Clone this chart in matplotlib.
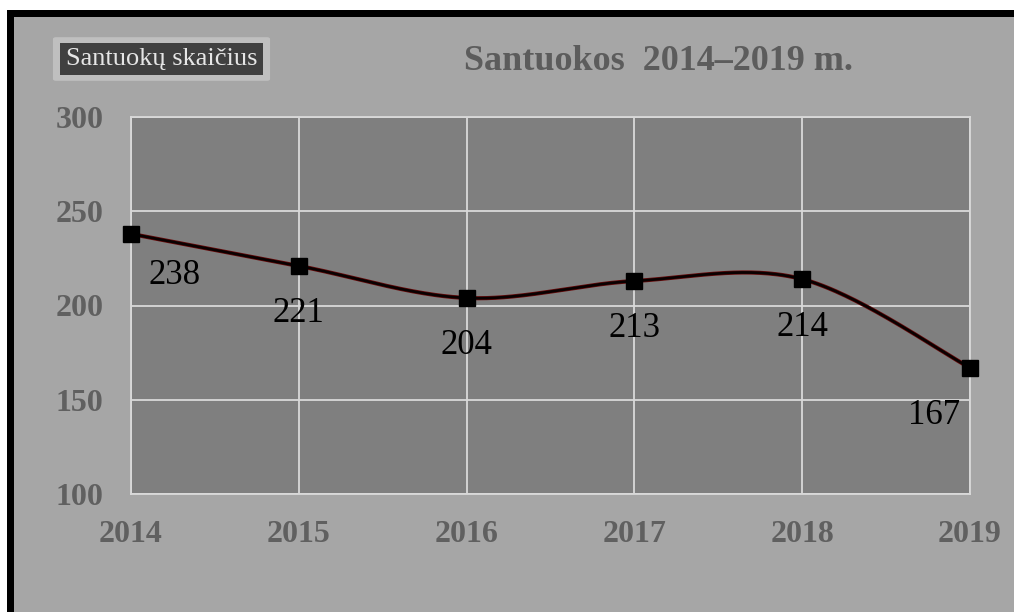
import matplotlib
matplotlib.use("Agg")
import matplotlib.pyplot as plt
import numpy as np
from matplotlib.patches import Rectangle, FancyBboxPatch

years = ["2014", "2015", "2016", "2017", "2018", "2019"]
values = [238, 221, 204, 213, 214, 167]
yticks = [100, 150, 200, 250, 300]
title = "Santuokos  2014–2019 m."
legend_label = "Santuokų skaičius"

plt.rcParams['font.family'] = ['Liberation Serif', 'DejaVu Serif']

W, H = 1014, 612
fig = plt.figure(figsize=(W / 100, H / 100), dpi=100)
fig.patch.set_facecolor('white')

def fx(px):
    return px / W

def fy(py):
    return 1 - py / H

# background panel and black borders
fig.patches.append(Rectangle((fx(14), 0), 1 - fx(14), fy(17), transform=fig.transFigure,
                             facecolor='#a6a6a6', edgecolor='none', zorder=-3))
fig.patches.append(Rectangle((fx(7), fy(17)), 1 - fx(7), fy(10) - fy(17), transform=fig.transFigure,
                             facecolor='black', edgecolor='none', zorder=-2))
fig.patches.append(Rectangle((fx(7), 0), fx(14) - fx(7), fy(10), transform=fig.transFigure,
                             facecolor='black', edgecolor='none', zorder=-2))

ax = fig.add_axes([fx(131), fy(494), fx(970) - fx(131), fy(117) - fy(494)])
ax.set_zorder(5)
ax.set_facecolor('#7f7f7f')

x = np.arange(len(values))
y = np.array(values, dtype=float)

# smooth curve (Catmull-Rom / Bezier like spreadsheet smoothing)
xs, ys = [], []
n = len(x)
for i in range(n - 1):
    p0 = np.array([x[max(i - 1, 0)], y[max(i - 1, 0)]])
    p1 = np.array([x[i], y[i]])
    p2 = np.array([x[i + 1], y[i + 1]])
    p3 = np.array([x[min(i + 2, n - 1)], y[min(i + 2, n - 1)]])
    c1 = p1 + (p2 - p0) / 6.0
    c2 = p2 - (p3 - p1) / 6.0
    t = np.linspace(0, 1, 60)[:, None]
    pts = ((1 - t) ** 3) * p1 + 3 * ((1 - t) ** 2) * t * c1 + 3 * (1 - t) * t ** 2 * c2 + t ** 3 * p2
    xs.extend(pts[:, 0])
    ys.extend(pts[:, 1])

ax.plot(xs, ys, color='#6a0c0c', lw=3.0, zorder=3, solid_capstyle='round')
ax.plot(xs, ys, color='#0a0000', lw=2.0, zorder=4, solid_capstyle='round')
ax.plot(x, y, linestyle='none', marker='s', markersize=12, color='black', zorder=5, clip_on=False)

# data labels
for i, v in enumerate(values):
    dx, dy = 0, -34.5
    if i == 0:
        dx, dy = 31.7, -30
    elif i == n - 1:
        dx, dy = -26, -34.5
    ax.annotate(str(v), (x[i], v), xytext=(dx, dy), textcoords='offset points',
                ha='center', va='center', fontsize=25, color='black', zorder=6)

ax.set_xlim(0, n - 1)
ax.set_ylim(100, 300)
ax.set_xticks(x)
ax.set_xticklabels(years)
ax.set_yticks(yticks)
ax.grid(True, color='#d9d9d9', lw=1.3)
ax.set_axisbelow(True)
for s in ax.spines.values():
    s.set_color('#d9d9d9')
    s.set_linewidth(1.3)
ax.tick_params(length=0)
ax.tick_params(axis='x', pad=19)
ax.tick_params(axis='y', pad=20)
for lab in ax.get_xticklabels() + ax.get_yticklabels():
    lab.set_fontsize(23)
    lab.set_fontweight('bold')
    lab.set_color('#606060')

# title
fig.text(fx(658), fy(62), title, ha='center', va='center', fontsize=26,
         fontweight='bold', color='#5c5c5c')

# legend-like box
fig.patches.append(FancyBboxPatch((fx(56), fy(79)), fx(267) - fx(56), fy(39) - fy(79),
                                  boxstyle='round,pad=0.003', transform=fig.transFigure,
                                  facecolor='#bfbfbf', edgecolor='none', zorder=2))
fig.patches.append(Rectangle((fx(60), fy(75)), fx(263) - fx(60), fy(43) - fy(75),
                             transform=fig.transFigure, facecolor='#404040',
                             edgecolor='none', zorder=3))
fig.text(fx(162), fy(59), legend_label, ha='center', va='center', fontsize=19,
         color='#e6e6e6', zorder=4)

fig.savefig('out.png', dpi=100, facecolor=fig.get_facecolor())
